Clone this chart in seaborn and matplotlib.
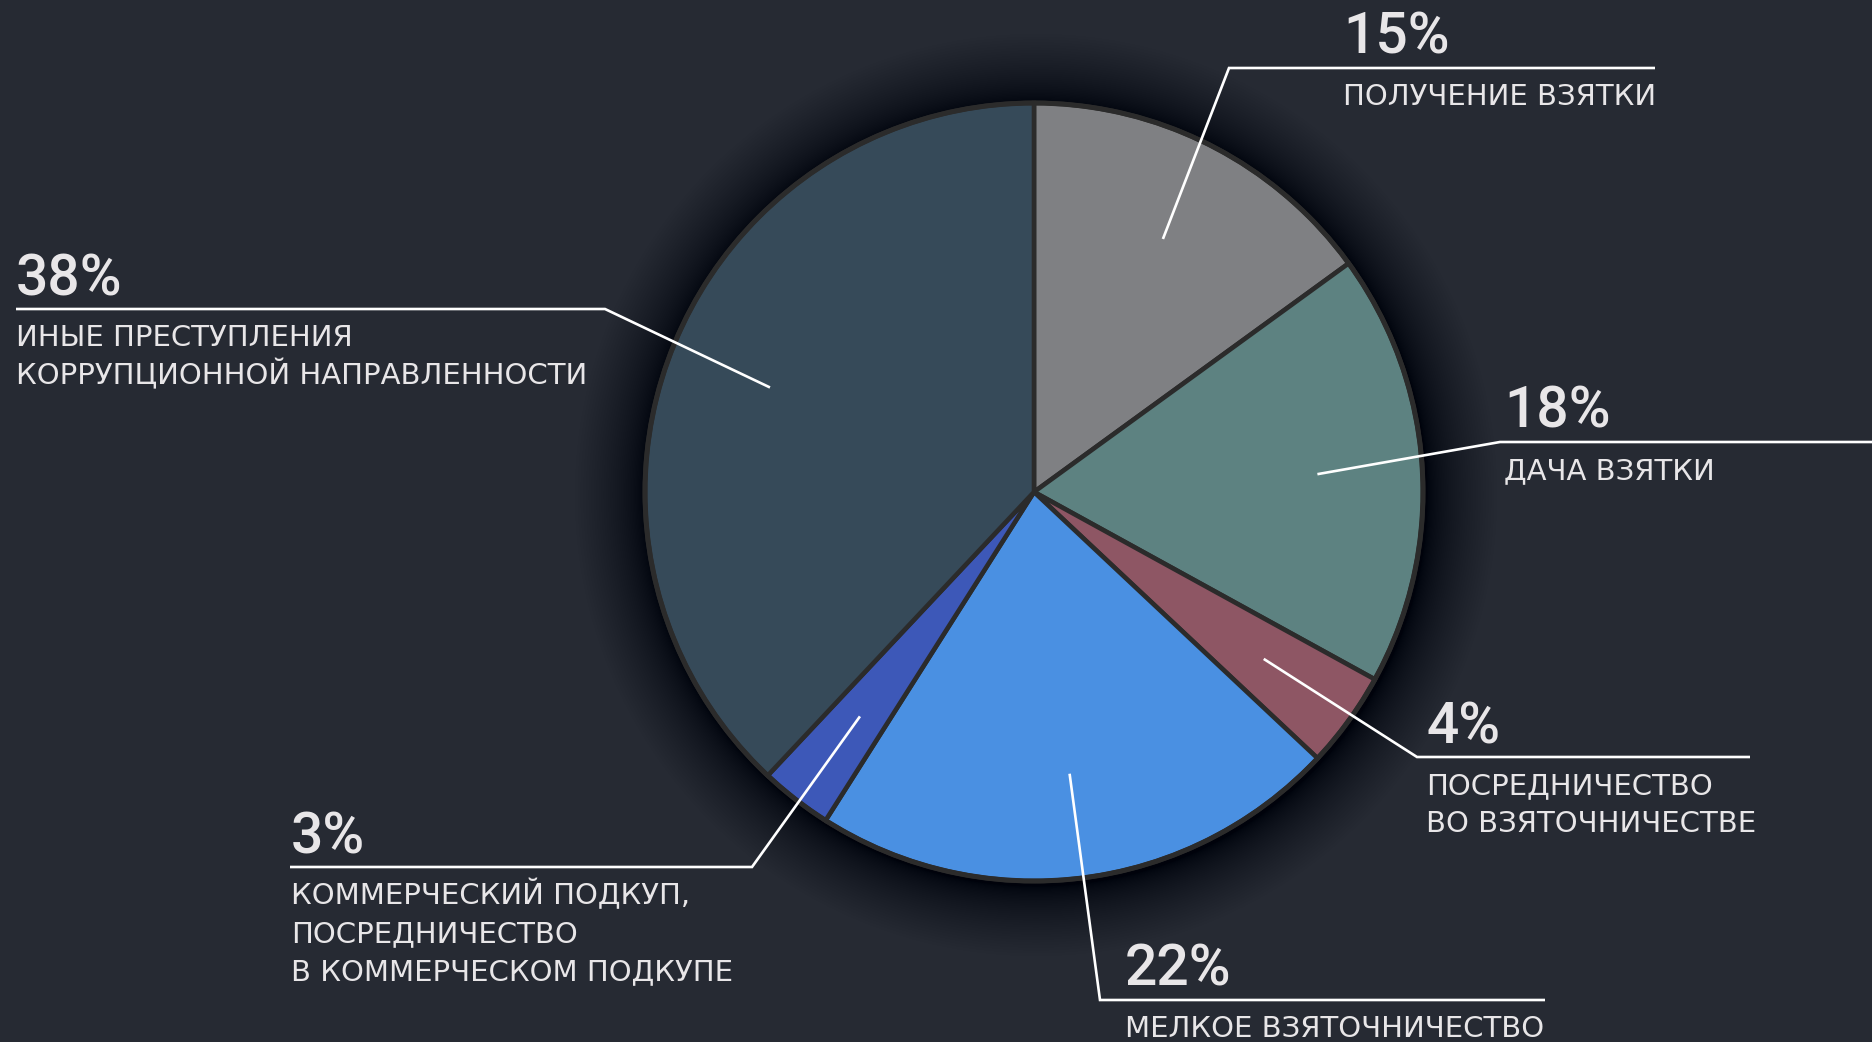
import numpy as np
import matplotlib
matplotlib.use("Agg")
import matplotlib.pyplot as plt
import seaborn as sns
from matplotlib.patches import Circle

# --- data -------------------------------------------------------------
shares = [15, 18, 4, 22, 3, 38]
pct_labels = ["15%", "18%", "4%", "22%", "3%", "38%"]
categories = [
    ["ПОЛУЧЕНИЕ ВЗЯТКИ"],
    ["ДАЧА ВЗЯТКИ"],
    ["ПОСРЕДНИЧЕСТВО", "ВО ВЗЯТОЧНИЧЕСТВЕ"],
    ["МЕЛКОЕ ВЗЯТОЧНИЧЕСТВО"],
    ["КОММЕРЧЕСКИЙ ПОДКУП,", "ПОСРЕДНИЧЕСТВО", "В КОММЕРЧЕСКОМ ПОДКУПЕ"],
    ["ИНЫЕ ПРЕСТУПЛЕНИЯ", "КОРРУПЦИОННОЙ НАПРАВЛЕННОСТИ"],
]
slice_colors = ["#7f8083", "#5d8281", "#8e5664", "#4a90e2", "#3d58b8", "#364a59"]

# --- styling ----------------------------------------------------------
BG = "#262a33"
TEXT = "#e8e6e8"
W, H = 1872, 1042

sns.set_theme(style="dark", rc={"figure.facecolor": BG, "axes.facecolor": BG})
plt.rcParams["font.family"] = ["Noto Sans", "DejaVu Sans"]

fig = plt.figure(figsize=(W / 100, H / 100), dpi=100)
ax = fig.add_axes([0, 0, 1, 1])
ax.set_facecolor(BG)

cx, cy, R = 1034, H - 492, 389

# soft dark halo under the pie, densest right at the rim
halo_r = R + 2 + 70 * np.linspace(1, 0, 40) ** 1.6
for r in halo_r:
    ax.add_patch(Circle((cx + 2, cy - 3), r, color="black", alpha=0.013, lw=0, zorder=1))

wedges, _ = ax.pie(
    shares,
    colors=sns.color_palette(slice_colors),
    startangle=90,
    counterclock=False,
    center=(cx, cy),
    radius=R,
    frame=True,
    wedgeprops=dict(edgecolor="#2b2b2b", linewidth=3.3, zorder=2),
)
ax.add_patch(Circle((cx, cy), R, fill=False, ec="#2b2b2b", lw=3.6, zorder=3))

# leader-line layout: elbow point, end of the horizontal rule, text x (pixels from top-left)
layout = [
    ((1229, 68), 1655, 1343),
    ((1500, 442), 1872, 1504),
    ((1417, 757), 1750, 1426),
    ((1100, 1000), 1545, 1125),
    ((752, 867), 290, 291),
    ((605, 309), 16, 16),
]

for wedge, pct, lines, ((ex, ey), x_end, tx) in zip(wedges, pct_labels, categories, layout):
    mid = np.deg2rad((wedge.theta1 + wedge.theta2) / 2)
    ix, iy = cx + 0.73 * R * np.cos(mid), cy + 0.73 * R * np.sin(mid)
    ey_d = H - ey
    ax.plot([ix, ex, x_end], [iy, ey_d, ey_d], color="white", lw=1.9,
            solid_capstyle="butt", solid_joinstyle="miter", zorder=5)
    ax.text(tx, ey_d + 14, pct, color=TEXT, fontsize=41, fontweight="medium",
            family=["Roboto", "DejaVu Sans"], ha="left", va="baseline", zorder=6)
    for k, line in enumerate(lines):
        ax.text(tx, ey_d - 37 - 38 * k, line, color=TEXT, fontsize=21,
                family=["DejaVu Sans"], ha="left", va="baseline", zorder=6)

ax.set_xlim(0, W)
ax.set_ylim(0, H)
ax.set_aspect("equal")
ax.set_axis_off()

fig.savefig("out.png", dpi=100, facecolor=BG)
